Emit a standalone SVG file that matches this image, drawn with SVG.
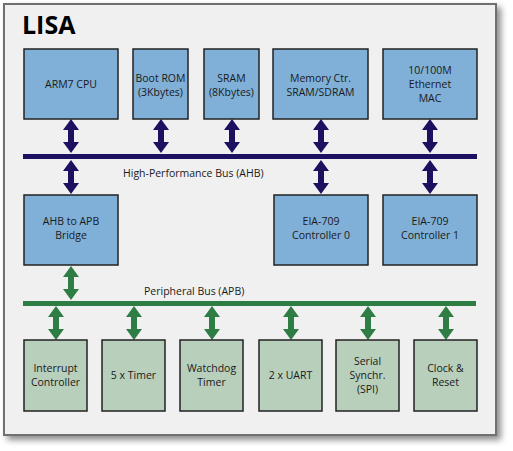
<svg xmlns="http://www.w3.org/2000/svg" xmlns:xlink="http://www.w3.org/1999/xlink" width="513" height="451" viewBox="0 0 513 451">
<defs>
<filter id="sh" x="-5%" y="-5%" width="115%" height="115%">
<feDropShadow dx="4" dy="4" stdDeviation="3" flood-color="#000" flood-opacity="0.45"/>
</filter>
<path id="arr" d="M0,0 L8,11 L3,11 L3,23 L8,23 L0,34 L-8,23 L-3,23 L-3,11 L-8,11 Z"/>
</defs>
<style>
.bg{fill:#ffffff}
.frame{fill:#f0f0f0;stroke:#707070;stroke-width:2}
.blue{fill:#80b0d7;stroke:#222;stroke-width:1.5}
.green{fill:#b8cfbc;stroke:#222;stroke-width:1.5}
.t{font-family:"Open Sans","Liberation Sans",sans-serif;font-size:10.5px;fill:#1a1a1a;text-anchor:middle}
.bl{font-family:"Open Sans","Liberation Sans",sans-serif;font-size:10.5px;fill:#1a1a1a}
.title{font-family:"Open Sans","Liberation Sans",sans-serif;font-size:25px;font-weight:bold;fill:#000}
.navy{fill:#1c1060}
.grn{fill:#2e7d45}
</style>
<rect class="bg" x="0" y="0" width="513" height="451"/>
<rect class="frame" x="4" y="4" width="492" height="431" filter="url(#sh)"/>
<text class="title" x="22" y="34">LISA</text>

<g id="connectors">
<rect id="ahb-bus" class="navy" x="23" y="154" width="454" height="5"/>
<rect id="apb-bus" class="grn" x="23" y="301" width="453" height="5"/>
<g class="navy">
<use xlink:href="#arr" transform="translate(71,119)"/>
<use xlink:href="#arr" transform="translate(161,119)"/>
<use xlink:href="#arr" transform="translate(232,119)"/>
<use xlink:href="#arr" transform="translate(321,119)"/>
<use xlink:href="#arr" transform="translate(430,119)"/>
<use xlink:href="#arr" transform="translate(71,160)"/>
<use xlink:href="#arr" transform="translate(321,160)"/>
<use xlink:href="#arr" transform="translate(430,160)"/>
</g>
<g class="grn">
<use xlink:href="#arr" transform="translate(71,266)"/>
<use xlink:href="#arr" transform="translate(56,306)"/>
<use xlink:href="#arr" transform="translate(134,306)"/>
<use xlink:href="#arr" transform="translate(212,306)"/>
<use xlink:href="#arr" transform="translate(291,306)"/>
<use xlink:href="#arr" transform="translate(368,306)"/>
<use xlink:href="#arr" transform="translate(446,306)"/>
</g>
<text class="bl" x="123" y="177">High-Performance Bus (AHB)</text>
<text class="bl" x="144" y="295">Peripheral Bus (APB)</text>
</g>

<g id="arm7">
<rect class="blue" x="24" y="49" width="94" height="70"/>
<text class="t" x="71" y="88">ARM7 CPU</text>
</g>
<g id="bootrom">
<rect class="blue" x="133" y="49" width="55" height="70"/>
<text class="t" x="160.5" y="82">Boot ROM</text>
<text class="t" x="160.5" y="96">(3Kbytes)</text>
</g>
<g id="sram">
<rect class="blue" x="204" y="49" width="55" height="70"/>
<text class="t" x="231.5" y="82">SRAM</text>
<text class="t" x="231.5" y="96">(8Kbytes)</text>
</g>
<g id="memctr">
<rect class="blue" x="273" y="49" width="95" height="70"/>
<text class="t" x="320.5" y="82">Memory Ctr.</text>
<text class="t" x="320.5" y="96">SRAM/SDRAM</text>
</g>
<g id="ethernet">
<rect class="blue" x="383" y="49" width="94" height="70"/>
<text class="t" x="430" y="74">10/100M</text>
<text class="t" x="430" y="88">Ethernet</text>
<text class="t" x="430" y="102">MAC</text>
</g>
<g id="bridge">
<rect class="blue" x="24" y="195" width="94" height="70"/>
<text class="t" x="71" y="225">AHB to APB</text>
<text class="t" x="71" y="239">Bridge</text>
</g>
<g id="eia0">
<rect class="blue" x="274" y="195" width="94" height="70"/>
<text class="t" x="321" y="225">EIA-709</text>
<text class="t" x="321" y="239">Controller 0</text>
</g>
<g id="eia1">
<rect class="blue" x="383" y="195" width="94" height="70"/>
<text class="t" x="430" y="225">EIA-709</text>
<text class="t" x="430" y="239">Controller 1</text>
</g>
<g id="interrupt">
<rect class="green" x="24" y="340" width="63" height="71"/>
<text class="t" x="55.5" y="372">Interrupt</text>
<text class="t" x="55.5" y="386">Controller</text>
</g>
<g id="timer">
<rect class="green" x="102" y="340" width="63" height="71"/>
<text class="t" x="133.5" y="379">5 x Timer</text>
</g>
<g id="watchdog">
<rect class="green" x="180" y="340" width="63" height="71"/>
<text class="t" x="211.5" y="372">Watchdog</text>
<text class="t" x="211.5" y="386">Timer</text>
</g>
<g id="uart">
<rect class="green" x="259" y="340" width="63" height="71"/>
<text class="t" x="290.5" y="379">2 x UART</text>
</g>
<g id="spi">
<rect class="green" x="336" y="340" width="63" height="71"/>
<text class="t" x="367.5" y="365">Serial</text>
<text class="t" x="367.5" y="379">Synchr.</text>
<text class="t" x="367.5" y="393">(SPI)</text>
</g>
<g id="clock">
<rect class="green" x="414" y="340" width="63" height="71"/>
<text class="t" x="445.5" y="372">Clock &amp;</text>
<text class="t" x="445.5" y="386">Reset</text>
</g>
</svg>
